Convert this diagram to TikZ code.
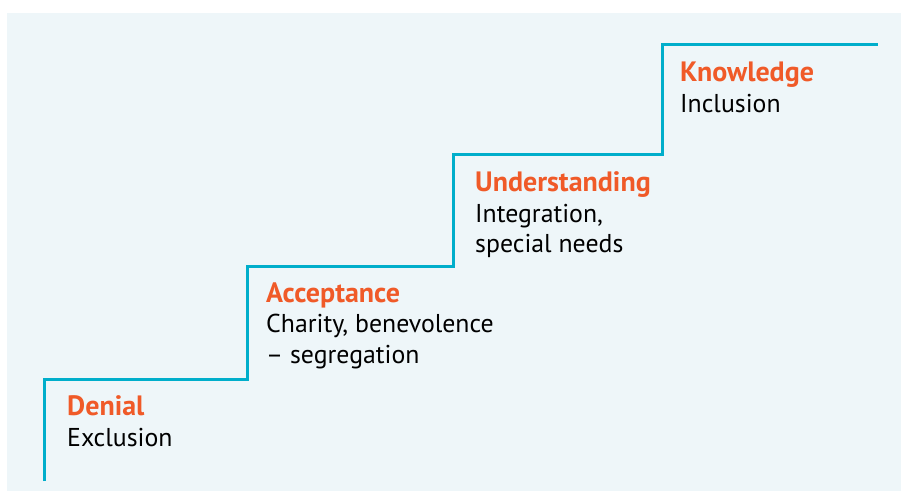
\documentclass[tikz,border=0pt]{standalone}
\usepackage{fontspec}
\setmainfont{PT Sans}
\definecolor{bgblue}{HTML}{EEF6F9}
\definecolor{stairblue}{HTML}{00AECB}
\definecolor{titleorange}{HTML}{F05A28}
\newcommand{\steptitle}[1]{\textcolor{titleorange}{\fontsize{28}{30.5}\selectfont\bfseries #1}}
\begin{document}
\begin{tikzpicture}[x=1pt,y=-1pt,
  steptext/.style={anchor=base west,inner sep=0pt,align=left,font=\fontsize{25.8}{30.5}\selectfont,text=black},
  stairline/.style={draw=stairblue,line width=3pt,line cap=butt,line join=miter}]
\useasboundingbox (0,0) rectangle (901,491);
\fill[bgblue] (7,13) rectangle (901,491);
\coordinate (s0) at (44,481);
\coordinate (s1) at (247,379);
\coordinate (s2) at (453,266);
\coordinate (s3) at (662,154);
\coordinate (s4) at (662,44);
\coordinate (s5) at (878,44);
\draw[stairline] (s0) |- (s1) |- (s2) |- (s3) -- (s4) -- (s5);
\node[steptext] (denial) at (67,446) {\steptitle{Denial}\\Exclusion};
\node[steptext] (accept) at (266,363) {\steptitle{Acceptance}\\Charity, benevolence\\– segregation};
\node[steptext] (under) at (475,252.5) {\steptitle{Understanding}\\Integration,\\special needs};
\node[steptext] (know) at (680,112) {\steptitle{Knowledge}\\Inclusion};
\end{tikzpicture}
\end{document}
